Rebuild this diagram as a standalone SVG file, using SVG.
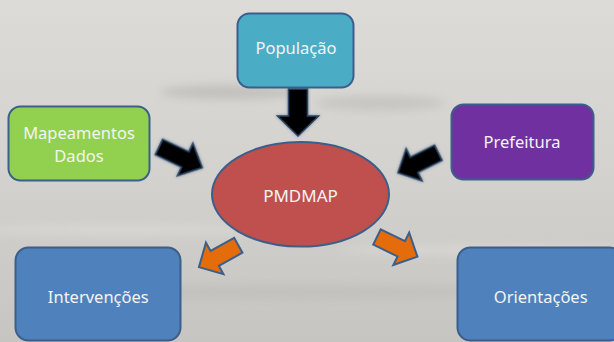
<svg xmlns="http://www.w3.org/2000/svg" width="614" height="342" viewBox="0 0 614 342">
  <defs>
    <linearGradient id="bg" x1="0" y1="0" x2="0" y2="1">
      <stop offset="0" stop-color="#dcdbd7"/>
      <stop offset="0.5" stop-color="#d3d2ce"/>
      <stop offset="1" stop-color="#c6c5c1"/>
    </linearGradient>
    <filter id="blur" x="-30%" y="-100%" width="160%" height="300%">
      <feGaussianBlur stdDeviation="5"/>
    </filter>
    <filter id="glow" x="-30%" y="-30%" width="160%" height="160%">
      <feGaussianBlur in="SourceAlpha" stdDeviation="1.5" result="b"/>
      <feFlood flood-color="#3c5a7c" flood-opacity="0.6"/>
      <feComposite in2="b" operator="in" result="g"/>
      <feMerge><feMergeNode in="g"/><feMergeNode in="SourceGraphic"/></feMerge>
    </filter>
    <path id="arrL" d="M0,-8.5 H29 V-18 L48,0 L29,18 V8.5 H0 Z"/>
    <path id="arrS" d="M0,-8.5 H27 V-18 L45,0 L27,18 V8.5 H0 Z"/>
  </defs>
  <style>
    .box { stroke: #3b5f8a; stroke-width: 2; }
    .lbl { font-family: "Noto Sans", "Open Sans", sans-serif; font-size: 16.5px; fill: #f4f4f4; text-anchor: middle; }
    .blk { fill: #050505; stroke: #2a4566; stroke-width: 1.5; stroke-linejoin: miter; }
    .org { fill: #e46c0a; stroke: #3b5f8a; stroke-width: 2; stroke-linejoin: miter; }
  </style>

  <!-- background -->
  <rect x="0" y="0" width="614" height="342" fill="url(#bg)"/>
  <g opacity="0.3" filter="url(#blur)">
    <ellipse cx="230" cy="92" rx="70" ry="7" fill="#8f8e8a"/>
    <ellipse cx="380" cy="103" rx="65" ry="7" fill="#a09f9b"/>
    <ellipse cx="300" cy="292" rx="220" ry="8" fill="#b2b1ad"/>
    <ellipse cx="120" cy="230" rx="140" ry="5" fill="#efeeea"/>
    <ellipse cx="480" cy="250" rx="140" ry="5" fill="#efeeea"/>
  </g>

  <!-- connectors -->
  <g id="connectors">
    <path class="blk" filter="url(#glow)" d="M288.5,89 H307.5 V116 H318.5 L298,136 L277.5,116 H288.5 Z"/>
    <use href="#arrL" class="blk" filter="url(#glow)" transform="translate(159,147) rotate(25.5)"/>
    <use href="#arrS" class="blk" filter="url(#glow)" transform="translate(438.3,152.8) rotate(153.6)"/>
    <use href="#arrS" class="org" transform="translate(238.3,245.3) rotate(151)"/>
    <use href="#arrS" class="org" transform="translate(377,237) rotate(26)"/>
  </g>

  <g id="populacao">
    <rect class="box" x="237.5" y="13.5" width="116" height="74" rx="12" fill="#4bacc6"/>
    <text class="lbl" x="296" y="54">População</text>
  </g>

  <g id="mapeamentos">
    <rect class="box" x="8.5" y="106.5" width="141" height="74" rx="12" fill="#92d050"/>
    <text class="lbl" x="79" y="138.5">Mapeamentos</text>
    <text class="lbl" x="79" y="161.8">Dados</text>
  </g>

  <g id="prefeitura">
    <rect class="box" x="451.5" y="104.5" width="142" height="75" rx="12" fill="#7030a0"/>
    <text class="lbl" x="522" y="148.3">Prefeitura</text>
  </g>

  <g id="pmdmap">
    <ellipse class="box" cx="300.5" cy="194.3" rx="88.5" ry="52.3" fill="#c0504d"/>
    <text class="lbl" x="300.5" y="201.7" style="font-size:17px">PMDMAP</text>
  </g>

  <g id="intervencoes">
    <rect class="box" x="15.5" y="247.5" width="165" height="93" rx="13" fill="#4f81bd"/>
    <text class="lbl" x="98.3" y="303">Intervenções</text>
  </g>

  <g id="orientacoes">
    <rect class="box" x="457.5" y="247.5" width="165" height="93" rx="13" fill="#4f81bd"/>
    <text class="lbl" x="540.7" y="303">Orientações</text>
  </g>
</svg>
